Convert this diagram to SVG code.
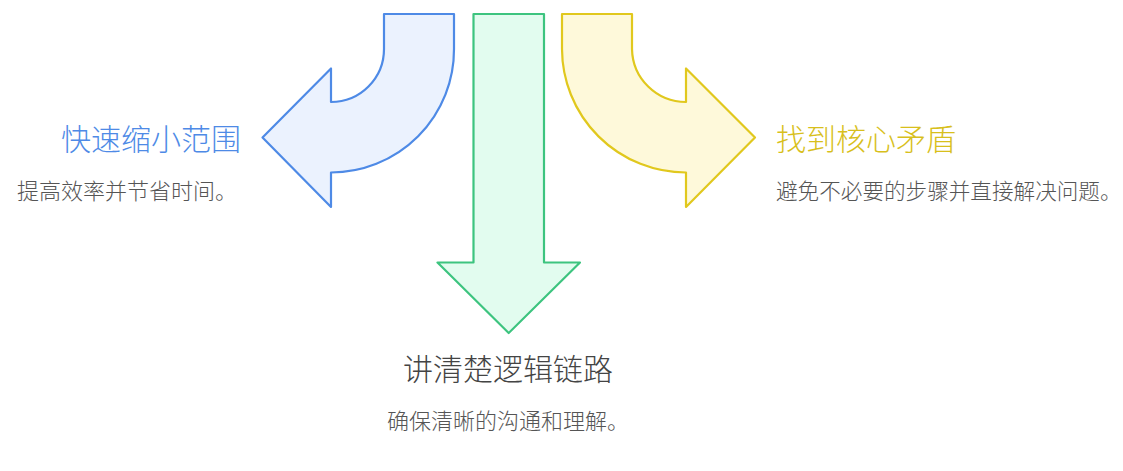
<svg xmlns="http://www.w3.org/2000/svg" width="1123" height="471" viewBox="0 0 1123 471">
<style>
.arrow{stroke-width:2.2;stroke-linejoin:round}
.blue{fill:#ebf2fe;stroke:#4e8ae6}
.green{fill:#e2fcef;stroke:#3dc47f}
.yellow{fill:#fef9da;stroke:#e1c81d}
.title{font-family:"Noto Sans CJK SC","Noto Sans",sans-serif;font-size:30px;font-weight:300}
.desc{font-family:"Noto Sans CJK SC","Noto Sans",sans-serif;font-size:22px;font-weight:300;fill:#555555}
</style>
<rect width="1123" height="471" fill="#ffffff"/>
<g id="connectors">
<path class="arrow blue" d="M384,14 L454,14 L454,49 A123,123 0 0 1 331,172.5 L331,207 L262.5,137.5 L331,68.5 L331,102 A53,53 0 0 0 384,49 Z"/>
<path class="arrow green" d="M473.5,14 L544,14 L544,262.5 L580,262.5 L508.7,333 L437.5,262.5 L473.5,262.5 Z"/>
<path class="arrow yellow" d="M632,14 L562,14 L562,49 A124,124 0 0 0 686,172.5 L686,207 L755,137.5 L686,68.5 L686,102 A54,54 0 0 1 632,49 Z"/>
</g>
<g id="node-left">
<text class="title" x="61" y="150" fill="#4e8ae6">快速缩小范围</text>
<text class="desc" x="17" y="199">提高效率并节省时间。</text>
</g>
<g id="node-right">
<text class="title" x="776" y="150" fill="#d8bf1c">找到核心矛盾</text>
<text class="desc" x="776" y="199" style="font-size:21.6px">避免不必要的步骤并直接解决问题。</text>
</g>
<g id="node-bottom">
<text class="title" x="508" y="380" text-anchor="middle" fill="#444444">讲清楚逻辑链路</text>
<text class="desc" x="508" y="429" text-anchor="middle">确保清晰的沟通和理解。</text>
</g>
</svg>
